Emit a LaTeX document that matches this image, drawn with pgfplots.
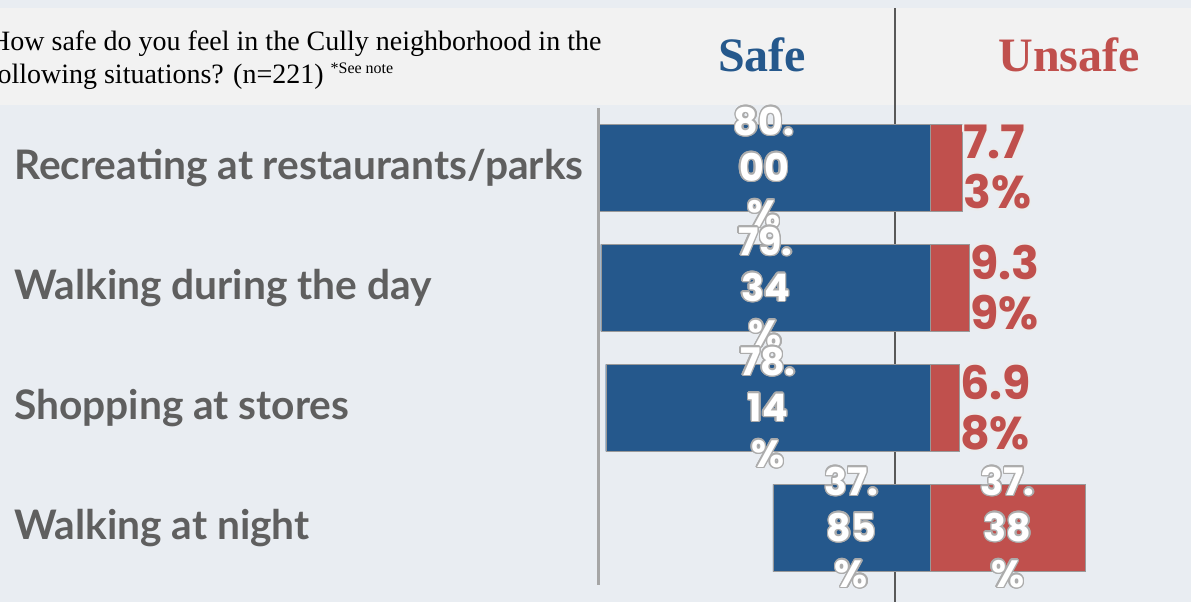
\documentclass[border=0pt]{standalone}
\usepackage{pgfplots}
\pgfplotsset{compat=1.18}
\usepackage{fontspec}
\setmainfont{Liberation Serif}
\newfontfamily\catfont{Lato}
\newfontfamily\labfont{Poppins}
\usepackage{contour}
\contourlength{1.4bp}
\definecolor{safeblue}{RGB}{37,88,140}
\definecolor{unsafered}{RGB}{192,80,77}
\definecolor{bgmain}{RGB}{233,237,242}
\definecolor{bghead}{RGB}{242,242,242}
\definecolor{catgray}{RGB}{95,95,95}
\protected\def\lab#1#2#3{\contour{gray!65}{#1}\\\contour{gray!65}{#2}\\\contour{gray!65}{#3}}
\protected\def\labr#1#2{\contour{white!85!gray}{#1}\\\contour{white!85!gray}{#2}}
\begin{document}
\begin{tikzpicture}[x=1bp,y=1bp]
\useasboundingbox (0,0) rectangle (1191,602);
\clip (0,0) rectangle (1191,602);
\fill[bgmain] (0,0) rectangle (1191,602);
\fill[bghead] (0,497) rectangle (1191,594);
\draw[black!65, line width=1.2bp] (895,0) -- (895,594);
\node[anchor=base west, inner sep=0pt, font=\fontsize{28bp}{32bp}\selectfont] at (-10,551) {How safe do you feel in the Cully neighborhood in the};
\node[anchor=base west, inner sep=0pt, font=\fontsize{28bp}{32bp}\selectfont] at (-12,518) {following situations? (n=221) \raisebox{10bp}{\fontsize{16bp}{18bp}\selectfont *See note}};
\node[anchor=base, inner sep=0pt, text=safeblue, font=\fontsize{48bp}{56bp}\selectfont\bfseries] at (762,530) {Safe};
\node[anchor=base, inner sep=0pt, text=unsafered, font=\fontsize{48bp}{56bp}\selectfont\bfseries] at (1069,530) {Unsafe};
\begin{axis}[at={(598bp,14bp)}, anchor=south west, scale only axis,
  width=589.3bp, height=480bp, xmin=-80, xmax=62, ymin=0.5, ymax=4.5,
  y dir=reverse, clip=false,
  axis line style={draw=none}, major tick length=0pt,
  xtick=\empty, ytick={1,2,3,4},
  yticklabels={Recreating at restaurants/parks, Walking during the day, Shopping at stores, Walking at night},
  yticklabel style={anchor=west, xshift=-584bp, inner sep=0pt, text=catgray, font=\catfont\bfseries\fontsize{40.7bp}{44bp}\selectfont},
]
\addplot[xbar, bar width=87bp, bar shift=0pt, fill=safeblue, draw=gray!80] coordinates {(-80.00,1) (-79.34,2) (-78.14,3) (-37.85,4)};
\addplot[xbar, bar width=87bp, bar shift=0pt, fill=unsafered, draw=gray!80] coordinates {(7.73,1) (9.39,2) (6.98,3) (37.38,4)};
\addplot[draw=none, mark=none, point meta=explicit symbolic, nodes near coords,
  every node near coord/.style={anchor=center, align=center, inner sep=0pt, text=white, font=\labfont\bfseries\fontsize{38bp}{46bp}\selectfont}]
  coordinates {(-40.00,1) [{\lab{80.}{00}{\%}}] (-39.67,2) [{\lab{79.}{34}{\%}}] (-39.07,3) [{\lab{78.}{14}{\%}}] (-18.93,4) [{\lab{37.}{85}{\%}}] (18.69,4) [{\lab{37.}{38}{\%}}]};
\addplot[draw=none, mark=none, point meta=explicit symbolic, nodes near coords,
  every node near coord/.style={anchor=west, align=left, inner sep=1bp, text=unsafered, font=\labfont\bfseries\fontsize{46bp}{50bp}\selectfont}]
  coordinates {(7.73,1) [{\labr{7.7}{3\%}}] (9.39,2) [{\labr{9.3}{9\%}}] (6.98,3) [{\labr{6.9}{8\%}}]};
\end{axis}
\draw[black!35, line width=3bp] (598,17) -- (598,494);
\end{tikzpicture}
\end{document}
